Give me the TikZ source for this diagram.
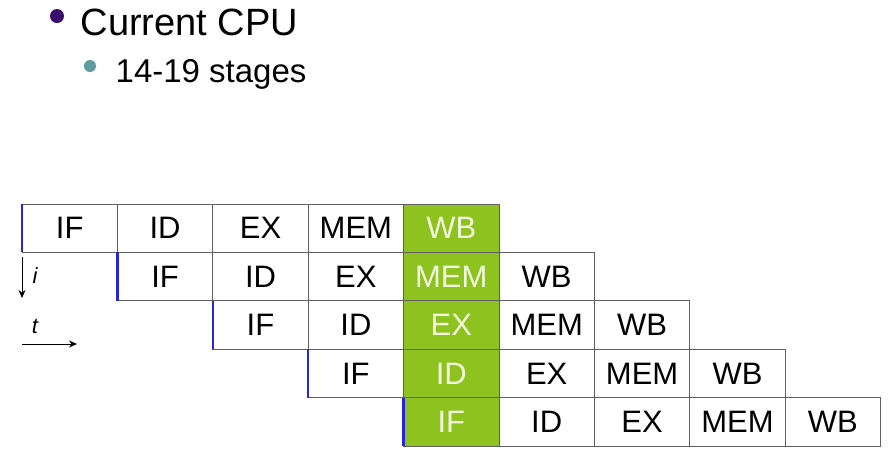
\documentclass[tikz,border=0pt]{standalone}
\usepackage{fontspec}
\setmainfont{Liberation Sans}
\usetikzlibrary{arrows.meta}
\definecolor{stagegreen}{HTML}{8DC21F}
\definecolor{greentext}{HTML}{F2F9DF}
\definecolor{gridgray}{HTML}{606060}
\definecolor{edgeblue}{HTML}{2626D8}
\definecolor{bulletpurple}{HTML}{3A0C6E}
\definecolor{bulletteal}{HTML}{609C9E}
\tikzset{
  cellbox/.style={draw=gridgray, line width=1pt, minimum width=95.4pt, minimum height=48.4pt,
    inner sep=0pt, outer sep=0pt, font=\fontsize{31}{36}\selectfont, text=black},
  hotcell/.style={cellbox, fill=stagegreen, text=greentext},
  startedge/.style={draw=edgeblue, line width=2.4pt},
  axisarrow/.style={draw=black, line width=1pt, -{Stealth[length=8pt,width=7pt]}},
  axislabel/.style={font=\fontsize{22}{26}\selectfont\itshape, inner sep=0pt},
}
\begin{document}
\begin{tikzpicture}[x=1pt,y=-1pt]
\useasboundingbox (0,0) rectangle (895,475);
% bullets
\fill[bulletpurple] (57,16) circle (7);
\node[anchor=base west, inner sep=0pt, font=\fontsize{38}{44}\selectfont] (t1) at (80.5,35) {Current CPU};
\fill[bulletteal] (90,66) circle (6);
\node[anchor=base west, inner sep=0pt, font=\fontsize{33}{38}\selectfont] (t2) at (115.5,82) {14-19 stages};
% pipeline
\def\cw{95.4}
\def\rh{48.4}
\foreach \r in {0,...,4}{
  \foreach \s [count=\k from 0] in {IF,ID,EX,MEM,WB}{
    \pgfmathsetmacro{\col}{\r+\k}
    \pgfmathsetmacro{\cx}{22+\cw*\col+\cw/2}
    \pgfmathsetmacro{\cy}{204+\rh*\r+\rh/2}
    \pgfmathtruncatemacro{\ci}{\col}
    \ifnum\ci=4
      \node[hotcell] (c-\r-\k) at (\cx,\cy) {\s};
    \else
      \node[cellbox] (c-\r-\k) at (\cx,\cy) {\s};
    \fi
  }
  \draw[startedge] (c-\r-0.north west) -- (c-\r-0.south west);
}
% axes
\coordinate (ia) at (22,257);
\coordinate (ib) at (22,298);
\coordinate (ta) at (22,344);
\coordinate (tb) at (77,344);
\draw[axisarrow] (ia) -- (ib);
\draw[axisarrow] (ta) -- (tb);
\node[axislabel] (il) at (35,276) {i};
\node[axislabel] (tl) at (35,326) {t};
\end{tikzpicture}
\end{document}
